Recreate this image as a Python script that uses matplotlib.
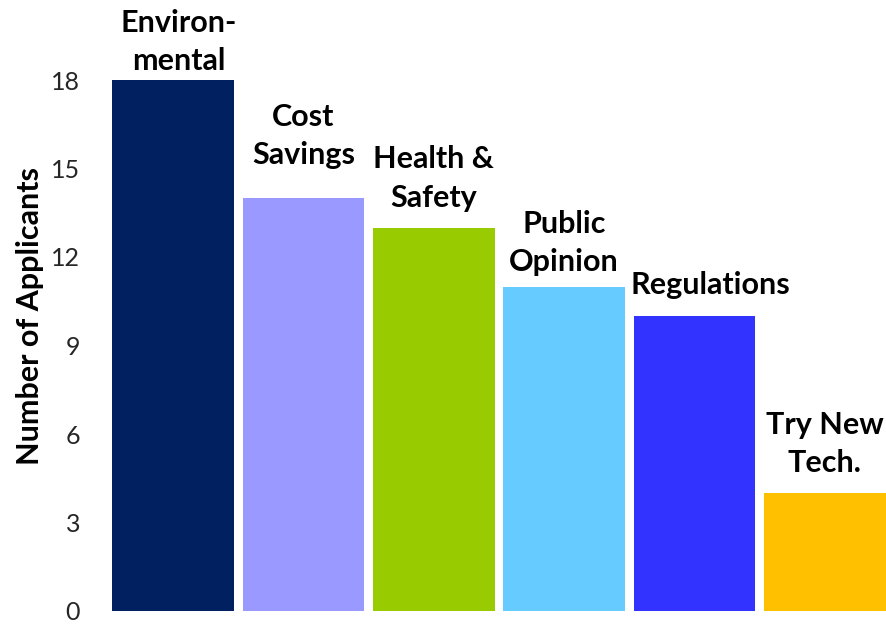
import matplotlib
matplotlib.use("Agg")
import matplotlib.pyplot as plt

categories = ["Environ-\nmental", "Cost\nSavings", "Health &\nSafety", "Public\nOpinion", "Regulations", "Try New\nTech."]
values = [18, 14, 13, 11, 10, 4]
colors = ["#002060", "#9999FF", "#99CC00", "#66CCFF", "#3333FF", "#FFC000"]
yticks = [0, 3, 6, 9, 12, 15, 18]

# label placement tweaks (pixels): baseline height above bar top, horizontal shift
label_dy = [10, 34, 21, 15, 22, 21]
label_dx = [6, 0, 0, 0, 16, 0]

plt.rcParams['font.family'] = ['Lato', 'DejaVu Sans']

fig = plt.figure(figsize=(8.86, 6.24), dpi=100)
W, H = 886, 624
ax = fig.add_axes([108 / W, (H - 611) / H, (886 - 108) / W, (611 - 80) / H])

x = list(range(len(values)))
ax.bar(x, values, width=0.935, color=colors, edgecolor="none")
ax.set_xlim(-0.5, 5.47)
ax.set_ylim(0, 18)
ax.set_yticks(yticks)
ax.set_yticklabels([str(t) for t in yticks], fontsize=18, color="#262626")
ax.tick_params(axis="y", length=0, pad=20)
ax.set_xticks([])
for s in ax.spines.values():
    s.set_visible(False)

ax.set_ylabel("Number of Applicants", fontsize=22, fontweight="bold")
ax.yaxis.set_label_coords((44 - 108) / 778, (611 - 316) / 531)

px = 72 / 100
for xi, v, c, dy, dx in zip(x, values, categories, label_dy, label_dx):
    ax.annotate(c, (xi, v), xytext=(dx * px, dy * px), textcoords="offset points",
                ha="center", va="baseline", fontsize=22, fontweight="bold",
                linespacing=1.45, clip_on=False)

fig.savefig("out.png", dpi=100)
